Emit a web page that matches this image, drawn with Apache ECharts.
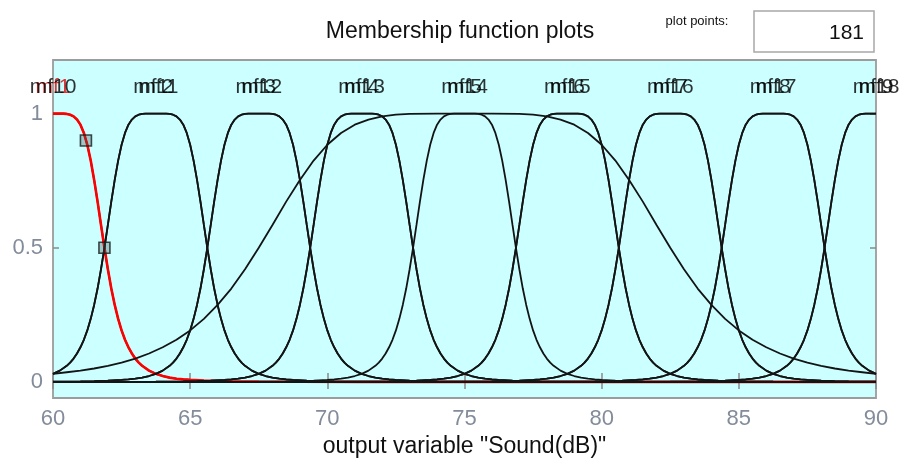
<!DOCTYPE html>
<html>
<head>
<meta charset="utf-8">
<script src="https://cdn.jsdelivr.net/npm/echarts@6/dist/echarts.min.js"></script>
<style>
  html, body { margin: 0; padding: 0; background: #ffffff; }
  #chart { width: 902px; height: 466px; }
</style>
</head>
<body>
<div id="chart"></div>
<script>
// Output variable "Sound(dB)": range and ticks
const xTicks = [60, 65, 70, 75, 80, 85, 90];
const yTicks = [0, 0.5, 1];

// Membership functions: name, peak position and which profile it uses
const mfNames = ['mf1', 'mf2', 'mf3', 'mf4', 'mf5', 'mf6', 'mf7', 'mf8', 'mf9',
                 'mf10', 'mf11', 'mf12', 'mf13', 'mf14', 'mf15', 'mf16', 'mf17', 'mf18'];
const mfCenters = [60, 63.75, 67.5, 71.25, 75, 78.75, 82.5, 86.25, 90,
                   60, 63.75, 67.5, 71.25, 75, 78.75, 82.5, 86.25, 90];
const mfShapes = ['narrow', 'narrow', 'narrow', 'narrow', 'wide', 'narrow', 'narrow', 'narrow', 'narrow',
                  'narrow', 'narrow', 'narrow', 'narrow', 'narrow', 'narrow', 'narrow', 'narrow', 'narrow'];

// Narrow bell: distance from the peak -> membership grade
const narrowOffsets = [0, 0.25, 0.375, 0.5, 0.625, 0.75, 0.875, 1, 1.125, 1.25, 1.375, 1.5, 1.625,
                       1.75, 1.875, 2, 2.125, 2.25, 2.375, 2.5, 2.625, 2.75, 2.875, 3, 3.125, 3.25,
                       3.5, 3.75, 4, 4.25, 4.5, 4.75, 5, 5.5, 6, 6.5, 7, 7.5, 9, 11.25, 15, 18.75,
                       22.5, 26.25, 30];
const narrowValues = [1, 1, 1, 0.999, 0.996, 0.99, 0.978, 0.959, 0.928, 0.884, 0.825, 0.753, 0.672,
                      0.585, 0.5, 0.42, 0.348, 0.287, 0.235, 0.192, 0.157, 0.129, 0.106, 0.087, 0.072, 0.06,
                      0.042, 0.03, 0.022, 0.016, 0.012, 0.0095, 0.0074, 0.0046, 0.003, 0.002, 0.0014, 0.001, 0.0004, 0.0001, 0, 0,
                      0, 0, 0];

// Wide bell (mf5)
const wideOffsets = [0, 1, 2, 2.5, 3, 3.5, 4, 4.5, 5, 5.5, 6, 6.5, 7, 7.5, 8, 8.5, 9, 9.5, 10,
                     10.5, 11, 11.5, 12, 12.5, 13, 13.5, 14, 14.5, 15];
const wideValues = [1, 1, 0.999, 0.996, 0.99, 0.978, 0.959, 0.928, 0.884, 0.825, 0.753, 0.672, 0.585,
                    0.5, 0.42, 0.348, 0.287, 0.235, 0.192, 0.157, 0.129, 0.106, 0.087, 0.072, 0.06,
                    0.05, 0.042, 0.036, 0.03];

// Edit handles on the selected function (mf1)
const handlePoints = [[61.2, 0.9], [61.875, 0.5]];
const plotPoints = 181;
const selectedIndex = 0;

const FONT = '"Liberation Sans", Arial, Helvetica, sans-serif';
const LABEL_Y = 1.1;
const X_MIN = xTicks[0], X_MAX = xTicks[xTicks.length - 1];

const profiles = {
  narrow: { offsets: narrowOffsets, values: narrowValues },
  wide: { offsets: wideOffsets, values: wideValues }
};

// Mirror a one-sided profile around the peak and keep the part inside the range
function curveData(center, shape) {
  const p = profiles[shape];
  const pts = [];
  for (let i = p.offsets.length - 1; i >= 0; i--) {
    const x = center - p.offsets[i];
    if (x >= X_MIN && x <= X_MAX) pts.push([x, p.values[i]]);
  }
  for (let i = 1; i < p.offsets.length; i++) {
    const x = center + p.offsets[i];
    if (x >= X_MIN && x <= X_MAX) pts.push([x, p.values[i]]);
  }
  return pts;
}

// Draw order: mf10 below the highlighted mf1, the rest above
const drawOrder = [9, 0, 1, 2, 3, 4, 5, 6, 7, 8, 10, 11, 12, 13, 14, 15, 16, 17];

const series = drawOrder.map(i => ({
  name: mfNames[i],
  type: 'line',
  data: curveData(mfCenters[i], mfShapes[i]),
  showSymbol: false,
  smooth: false,
  silent: true,
  lineStyle: i === selectedIndex
    ? { color: '#ff0000', width: 2.6 }
    : { color: '#141414', width: 1.8 }
}));

series.push({
  name: 'handles',
  type: 'scatter',
  data: handlePoints,
  symbol: 'rect',
  symbolSize: 11,
  silent: true,
  itemStyle: { color: 'rgba(60,85,85,0.4)', borderColor: '#1a1a1a', borderWidth: 1.6 },
  z: 5
});

// MF names written above each peak; mf10 prints over the red mf1
const labelOrder = [0].concat(mfNames.map((_, i) => i).filter(i => i !== 0));
series.push({
  name: 'names',
  type: 'scatter',
  symbolSize: 1,
  silent: true,
  clip: false,
  itemStyle: { color: 'rgba(0,0,0,0)' },
  data: labelOrder.map(i => ({
    name: mfNames[i],
    value: [mfCenters[i], LABEL_Y],
    label: { color: i === selectedIndex ? '#e00000' : '#000000' }
  })),
  label: {
    show: true,
    position: 'inside',
    formatter: '{b}',
    fontFamily: FONT,
    fontSize: 21
  },
  z: 6
});

const chart = echarts.init(document.getElementById('chart'), null, { renderer: 'canvas' });
chart.setOption({
  animation: false,
  backgroundColor: '#ffffff',
  textStyle: { fontFamily: FONT },
  grid: {
    left: 53, right: 26, top: 60, bottom: 68,
    show: true, backgroundColor: '#ccffff',
    borderColor: '#9c9c9c', borderWidth: 1.8
  },
  xAxis: [
    {
      type: 'value', position: 'bottom', min: X_MIN, max: X_MAX, interval: 5,
      axisLine: { show: false },
      axisTick: { inside: true, length: 9, lineStyle: { color: '#8a8a8a', width: 1.5 } },
      axisLabel: { color: '#838c9a', fontSize: 22, margin: 10, fontFamily: FONT },
      splitLine: { show: false },
      name: 'output variable "Sound(dB)"',
      nameLocation: 'middle', nameGap: 30,
      nameTextStyle: { color: '#111111', fontSize: 23, fontFamily: FONT }
    },
    {
      type: 'value', position: 'top', min: X_MIN, max: X_MAX, interval: 5,
      axisLine: { show: false },
      axisTick: { inside: true, length: 7, lineStyle: { color: '#8a8a8a', width: 1.5 } },
      axisLabel: { show: false },
      splitLine: { show: false }
    }
  ],
  yAxis: [
    {
      type: 'value', position: 'left', min: -0.06, max: 1.2,
      axisLine: { show: false },
      axisTick: { inside: true, length: 6, customValues: yTicks, lineStyle: { color: '#8a8a8a', width: 1.5 } },
      axisLabel: { customValues: yTicks, color: '#838c9a', fontSize: 22, margin: 10, fontFamily: FONT },
      splitLine: { show: false }
    },
    {
      type: 'value', position: 'right', min: -0.06, max: 1.2,
      axisLine: { show: false },
      axisTick: { inside: true, length: 6, customValues: yTicks, lineStyle: { color: '#8a8a8a', width: 1.5 } },
      axisLabel: { show: false },
      splitLine: { show: false }
    }
  ],
  graphic: [
    {
      type: 'text', x: 460, y: 32,
      style: { text: 'Membership function plots', fill: '#111111', font: '23px ' + FONT,
               align: 'center', verticalAlign: 'middle' }
    },
    {
      type: 'text', x: 697, y: 21,
      style: { text: 'plot points:', fill: '#111111', font: '13px ' + FONT,
               align: 'center', verticalAlign: 'middle' }
    },
    {
      type: 'rect', shape: { x: 754, y: 11, width: 120, height: 41 },
      style: { fill: '#ffffff', stroke: '#a8a8a8', lineWidth: 1.5 }
    },
    {
      type: 'text', x: 864, y: 33,
      style: { text: String(plotPoints), fill: '#111111', font: '21px ' + FONT,
               align: 'right', verticalAlign: 'middle' }
    }
  ],
  series: series
});
</script>
</body>
</html>
